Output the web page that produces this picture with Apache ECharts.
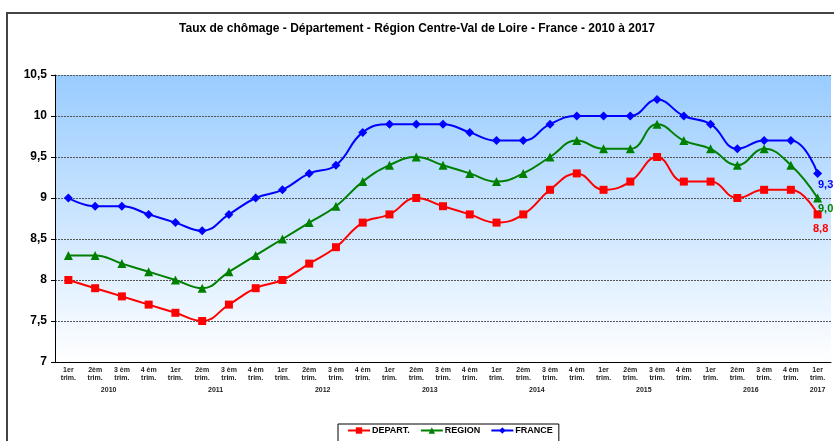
<!DOCTYPE html>
<html lang="fr">
<head>
    <meta charset="UTF-8"/>
    <title>Taux de chômage</title>
    <script src="https://cdn.jsdelivr.net/npm/echarts@6/dist/echarts.min.js"></script>
    <style>
        body { margin: 0; background: #fff; overflow: hidden; }
        #frame { position: absolute; left: 6px; top: 12px; width: 900px; height: 500px; border: 2px solid #444; border-right: none; border-bottom: none; }
        #main { position: absolute; left: 0; top: 0; width: 834px; height: 441px; }
    </style>
</head>
<body>
<div id="frame"></div>
<div id="main"></div>
<script type="text/javascript">
    // quarters 2010 T1 .. 2017 T1
    var quarters = ['1er\ntrim.', '2èm\ntrim.', '3 èm\ntrim.', '4 èm\ntrim.'];
    var years = ['2010', '2011', '2012', '2013', '2014', '2015', '2016', '2017'];
    var nbPoints = 29;

    var depart = [8.0, 7.9, 7.8, 7.7, 7.6, 7.5, 7.7, 7.9, 8.0, 8.2, 8.4, 8.7, 8.8, 9.0, 8.9, 8.8,
                  8.7, 8.8, 9.1, 9.3, 9.1, 9.2, 9.5, 9.2, 9.2, 9.0, 9.1, 9.1, 8.8];
    var region = [8.3, 8.3, 8.2, 8.1, 8.0, 7.9, 8.1, 8.3, 8.5, 8.7, 8.9, 9.2, 9.4, 9.5, 9.4, 9.3,
                  9.2, 9.3, 9.5, 9.7, 9.6, 9.6, 9.9, 9.7, 9.6, 9.4, 9.6, 9.4, 9.0];
    var france = [9.0, 8.9, 8.9, 8.8, 8.7, 8.6, 8.8, 9.0, 9.1, 9.3, 9.4, 9.8, 9.9, 9.9, 9.9, 9.8,
                  9.7, 9.7, 9.9, 10.0, 10.0, 10.0, 10.2, 10.0, 9.9, 9.6, 9.7, 9.7, 9.3];

    var quarterCats = [], yearCats = [];
    for (var i = 0; i < nbPoints; i++) {
        quarterCats.push(quarters[i % 4]);
        yearCats.push(years[Math.floor(i / 4)]);
    }

    function fr(v) { return String(v).replace('.', ','); }

    // only the last point gets a value label
    function withEndLabel(values, color, offset) {
        return values.map(function (v, i) {
            if (i !== values.length - 1) return v;
            return {
                value: v,
                label: {
                    show: true, position: 'bottom', offset: offset,
                    color: color, fontWeight: 'bold', fontSize: 11,
                    fontFamily: 'Liberation Sans, Arial',
                    formatter: function (p) { return p.value.toFixed(1).replace('.', ','); }
                }
            };
        });
    }

    var myChart = echarts.init(document.getElementById('main'));

    option = {
        animation: false,
        title: {
            text: 'Taux de chômage - Département - Région Centre-Val de Loire - France - 2010 à 2017',
            left: 'center', top: 18,
            textStyle: { fontFamily: 'Liberation Sans, Arial', fontWeight: 'bold', fontSize: 12, color: '#000' }
        },
        legend: {
            left: 338, top: 424,
            padding: [2, 6, 10, 9],
            borderColor: '#000', borderWidth: 1,
            backgroundColor: '#fff',
            itemWidth: 22, itemHeight: 8, itemGap: 10,
            textStyle: { fontFamily: 'Liberation Sans, Arial', fontWeight: 'bold', fontSize: 9, color: '#000', padding: [0, 0, 0, -3] },
            data: ['DEPART.', 'REGION', 'FRANCE']
        },
        grid: {
            left: 55, right: 3, top: 75, bottom: 79,
            show: true, borderWidth: 0,
            backgroundColor: {
                type: 'linear', x: 0, y: 0, x2: 0, y2: 1,
                colorStops: [{ offset: 0, color: '#99CCFF' }, { offset: 1, color: '#FFFFFF' }]
            }
        },
        xAxis: [{
            type: 'category', data: quarterCats, boundaryGap: true,
            axisLine: { lineStyle: { color: '#000', width: 1 } },
            axisTick: { interval: 0, length: 21, lineStyle: { color: '#999' } },
            axisLabel: { interval: 0, margin: 4, fontSize: 7, lineHeight: 8, fontFamily: 'Liberation Sans, Arial', fontWeight: 'bold', color: '#222' }
        }, {
            type: 'category', data: yearCats, boundaryGap: true, position: 'bottom',
            axisLine: { show: false },
            axisTick: {
                length: 34, lineStyle: { color: '#999' },
                interval: function (index) { return index % 4 === 0; }
            },
            axisLabel: {
                interval: 0, margin: 25, fontSize: 7, fontFamily: 'Liberation Sans, Arial', fontWeight: 'bold', color: '#222',
                formatter: function (value, index) {
                    if (index === nbPoints - 1 && index % 4 === 0) return value;
                    if (index % 4 === 1) return '{s|' + value + '}';
                    return '';
                },
                rich: { s: { padding: [0, 0, 0, 27], fontSize: 7, fontWeight: 'bold', fontFamily: 'Liberation Sans, Arial', color: '#222' } }
            }
        }],
        yAxis: {
            type: 'value', min: 7, max: 10.5, interval: 0.5,
            axisLine: { show: true, lineStyle: { color: '#000', width: 1 } },
            axisTick: { show: true, length: 4, lineStyle: { color: '#000' } },
            axisLabel: {
                margin: 8, fontSize: 12, fontFamily: 'Liberation Sans, Arial', fontWeight: 'bold', color: '#000',
                formatter: function (v) { return fr(v); }
            },
            splitLine: { lineStyle: { color: '#555', type: [2, 1], width: 1 } }
        },
        series: [{
            name: 'DEPART.', type: 'line', smooth: 0.45,
            data: withEndLabel(depart, '#FF0000', [3, 0]),
            symbol: 'rect', symbolSize: 8,
            itemStyle: { color: '#FF0000' }, lineStyle: { color: '#FF0000', width: 2 }
        }, {
            name: 'REGION', type: 'line', smooth: 0.45,
            data: withEndLabel(region, '#008000', [8, -4]),
            symbol: 'triangle', symbolSize: 9,
            itemStyle: { color: '#008000' }, lineStyle: { color: '#008000', width: 2 }
        }, {
            name: 'FRANCE', type: 'line', smooth: 0.45,
            data: withEndLabel(france, '#0000FF', [8, -3]),
            symbol: 'diamond', symbolSize: 9,
            itemStyle: { color: '#0000FF' }, lineStyle: { color: '#0000FF', width: 2 }
        }]
    };

    myChart.setOption(option);
</script>
</body>
</html>
